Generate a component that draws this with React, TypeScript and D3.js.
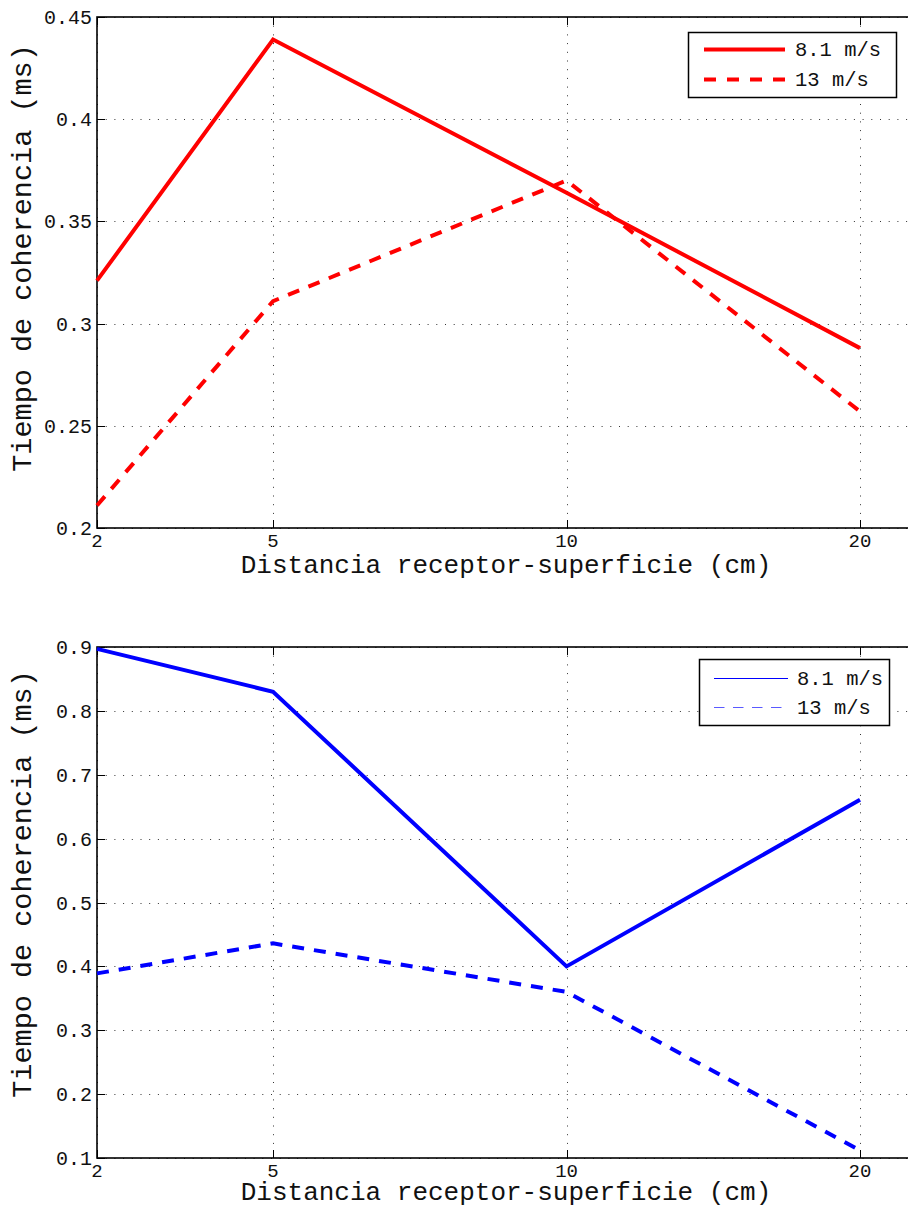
import React, { useRef, useEffect } from "react";
import * as d3 from "d3";

// distance categories (cm) and where they sit on the index axis
const distanceLabels = ["2", "5", "10", "20"];
const distanceIndex = [1.4, 2, 3, 4];

// coherence time (ms), top panel (red)
const redSlow = [0.321, 0.439, 0.364, 0.288];
const redFast = [0.211, 0.311, 0.37, 0.257];
// bottom panel (blue)
const blueSlow = [0.897, 0.83, 0.4, 0.661];
const blueFast = [0.389, 0.436, 0.36, 0.112];

const seriesNames = ["8.1 m/s", "13 m/s"];
const topTicks = [0.2, 0.25, 0.3, 0.35, 0.4, 0.45];
const bottomTicks = [0.1, 0.2, 0.3, 0.4, 0.5, 0.6, 0.7, 0.8, 0.9];

const FONT = "'Liberation Mono', 'Courier New', monospace";

type Panel = {
  top: number;
  bottom: number;
  yDomain: [number, number];
  ticks: number[];
  color: string;
  slow: number[];
  fast: number[];
  yLabelCenter: number;
  xLabelGap: number;
  legend: { x: number; y: number; w: number; h: number; thin: boolean };
};

function drawPanel(svg: d3.Selection<SVGSVGElement, unknown, null, undefined>, p: Panel) {
  const left = 97;
  const right = 925;
  const x = d3.scaleLinear().domain([1.4, 4]).range([left, 860]);
  const y = d3.scaleLinear().domain(p.yDomain).range([p.bottom, p.top]);
  const g = svg.append("g");

  // dotted grid
  g.selectAll("line.hgrid")
    .data(p.ticks)
    .join("line")
    .attr("x1", left)
    .attr("x2", right)
    .attr("y1", (d) => Math.round(y(d)) + 0.5)
    .attr("y2", (d) => Math.round(y(d)) + 0.5)
    .attr("stroke", "#333")
    .attr("stroke-width", 1)
    .attr("stroke-dasharray", "1,7.7");
  g.selectAll("line.vgrid")
    .data(distanceIndex)
    .join("line")
    .attr("x1", (d) => Math.round(x(d)) + 0.5)
    .attr("x2", (d) => Math.round(x(d)) + 0.5)
    .attr("y1", p.top)
    .attr("y2", p.bottom)
    .attr("stroke", "#333")
    .attr("stroke-width", 1)
    .attr("stroke-dasharray", "1,7.7");

  // tick marks (inside)
  g.selectAll("line.ytick")
    .data(p.ticks)
    .join("line")
    .attr("x1", left)
    .attr("x2", left + 8)
    .attr("y1", (d) => Math.round(y(d)) + 0.5)
    .attr("y2", (d) => Math.round(y(d)) + 0.5)
    .attr("stroke", "#000");
  g.selectAll("line.xtickb")
    .data(distanceIndex)
    .join("line")
    .attr("x1", (d) => Math.round(x(d)) + 0.5)
    .attr("x2", (d) => Math.round(x(d)) + 0.5)
    .attr("y1", p.bottom)
    .attr("y2", p.bottom - 8)
    .attr("stroke", "#000");
  g.selectAll("line.xtickt")
    .data(distanceIndex)
    .join("line")
    .attr("x1", (d) => Math.round(x(d)) + 0.5)
    .attr("x2", (d) => Math.round(x(d)) + 0.5)
    .attr("y1", p.top)
    .attr("y2", p.top + 8)
    .attr("stroke", "#000");

  // axes box
  g.append("rect")
    .attr("x", left)
    .attr("y", p.top)
    .attr("width", right - left)
    .attr("height", p.bottom - p.top)
    .attr("fill", "none")
    .attr("stroke", "#000")
    .attr("stroke-width", 1.6);

  // tick labels
  g.selectAll("text.ylab")
    .data(p.ticks)
    .join("text")
    .attr("x", left - 5)
    .attr("y", (d) => y(d))
    .attr("dy", "0.35em")
    .attr("text-anchor", "end")
    .style("font-family", FONT)
    .style("font-size", "20px")
    .attr("fill", "#111")
    .text((d) => String(d));
  g.selectAll("text.xlab")
    .data(distanceIndex)
    .join("text")
    .attr("x", (d) => x(d))
    .attr("y", p.bottom + 19)
    .attr("text-anchor", "middle")
    .style("font-family", FONT)
    .style("font-size", "19px")
    .attr("fill", "#111")
    .text((d, i) => distanceLabels[i]);

  // axis titles
  g.append("text")
    .attr("x", 506)
    .attr("y", p.bottom + p.xLabelGap)
    .attr("text-anchor", "middle")
    .style("font-family", FONT)
    .style("font-size", "26px")
    .attr("fill", "#111")
    .text("Distancia receptor-superficie (cm)");
  g.append("text")
    .attr("transform", `translate(31,${p.yLabelCenter}) rotate(-90)`)
    .attr("text-anchor", "middle")
    .style("font-family", FONT)
    .style("font-size", "28.5px")
    .attr("fill", "#111")
    .text("Tiempo de coherencia (ms)");

  // data lines
  const line = d3
    .line<number>()
    .x((d, i) => x(distanceIndex[i]))
    .y((d) => y(d));
  g.append("path")
    .attr("d", line(p.slow))
    .attr("fill", "none")
    .attr("stroke", p.color)
    .attr("stroke-width", 4)
    .attr("stroke-linejoin", "miter");
  g.append("path")
    .attr("d", line(p.fast))
    .attr("fill", "none")
    .attr("stroke", p.color)
    .attr("stroke-width", 4)
    .attr("stroke-dasharray", "12,10");

  // legend
  const L = p.legend;
  const lg = g.append("g");
  lg.append("rect")
    .attr("x", L.x + 0.5)
    .attr("y", L.y + 0.5)
    .attr("width", L.w)
    .attr("height", L.h)
    .attr("fill", "#fff")
    .attr("stroke", "#000")
    .attr("stroke-width", 1.5);
  const rowY = L.thin ? [19, 48] : [17, 47];
  const lineX = L.thin ? [15, 89] : [16, 97];
  seriesNames.forEach((name, i) => {
    lg.append("line")
      .attr("x1", L.x + lineX[0])
      .attr("x2", L.x + lineX[1])
      .attr("y1", L.y + rowY[i] + 0.5)
      .attr("y2", L.y + rowY[i] + 0.5)
      .attr("stroke", L.thin && i === 1 ? "#5a5aff" : p.color)
      .attr("stroke-width", L.thin ? 1 : 4)
      .attr("stroke-dasharray", i === 1 ? (L.thin ? "10.5,8.5" : "12,11") : null);
    lg.append("text")
      .attr("x", L.x + (L.thin ? 98 : 107))
      .attr("y", L.y + rowY[i] + 7)
      .style("font-family", FONT)
      .style("font-size", "20.5px")
      .attr("fill", "#111")
      .text(name);
  });
}

export default function App() {
  const ref = useRef<SVGSVGElement>(null);

  useEffect(() => {
    const svg = d3.select(ref.current as SVGSVGElement);
    svg.selectAll("*").remove();
    svg.append("rect").attr("width", 908).attr("height", 1207).attr("fill", "#fff");

    drawPanel(svg, {
      top: 17,
      bottom: 528,
      yDomain: [0.2, 0.45],
      ticks: topTicks,
      color: "#ff0000",
      slow: redSlow,
      fast: redFast,
      yLabelCenter: 258,
      xLabelGap: 45,
      legend: { x: 688, y: 32, w: 208, h: 65, thin: false },
    });
    drawPanel(svg, {
      top: 647,
      bottom: 1158,
      yDomain: [0.1, 0.9],
      ticks: bottomTicks,
      color: "#0000ff",
      slow: blueSlow,
      fast: blueFast,
      yLabelCenter: 884,
      xLabelGap: 42,
      legend: { x: 699, y: 659, w: 190, h: 66, thin: true },
    });
  }, []);

  return (
    <svg
      ref={ref}
      width={908}
      height={1207}
      style={{ position: "absolute", left: 0, top: 0 }}
    />
  );
}
